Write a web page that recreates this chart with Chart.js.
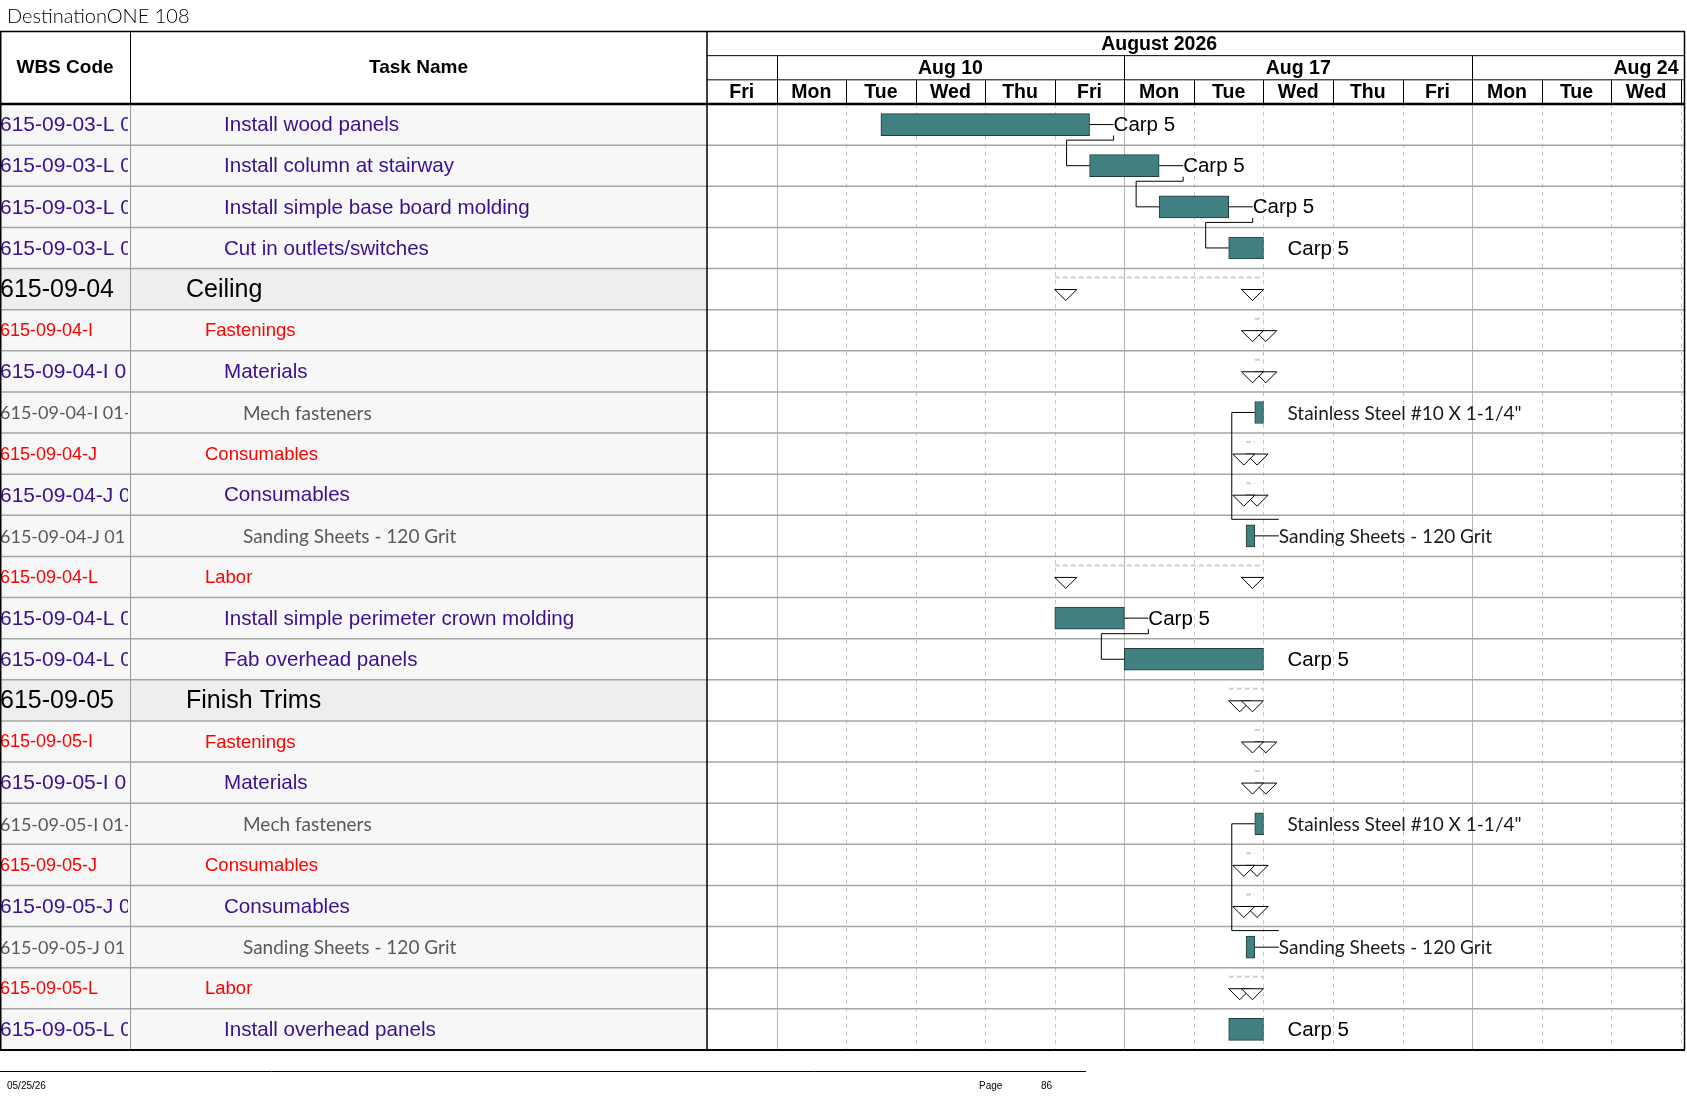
<!DOCTYPE html>
<html>
<head>
<meta charset="utf-8">
<title>DestinationONE 108</title>
<script src="https://cdn.jsdelivr.net/npm/chart.js@4.4.1/dist/chart.umd.min.js"></script>
<style>
    html, body { margin: 0; padding: 0; background: #fff; }
    canvas { display: block; }
</style>
</head>
<body>
<canvas id="ganttChart" width="1687" height="1097"></canvas>
<script>
// Rows of the schedule (top to bottom)
const wbsCodes = [
    "615-09-03-L 0", "615-09-03-L 0", "615-09-03-L 0", "615-09-03-L 0",
    "615-09-04", "615-09-04-I", "615-09-04-I 0", "615-09-04-I 01-",
    "615-09-04-J", "615-09-04-J 0", "615-09-04-J 01", "615-09-04-L",
    "615-09-04-L 0", "615-09-04-L 0",
    "615-09-05", "615-09-05-I", "615-09-05-I 0", "615-09-05-I 01-",
    "615-09-05-J", "615-09-05-J 0", "615-09-05-J 01", "615-09-05-L",
    "615-09-05-L 0"
];
const taskNames = [
    "Install wood panels", "Install column at stairway", "Install simple base board molding", "Cut in outlets/switches",
    "Ceiling", "Fastenings", "Materials", "Mech fasteners",
    "Consumables", "Consumables", "Sanding Sheets - 120 Grit", "Labor",
    "Install simple perimeter crown molding", "Fab overhead panels",
    "Finish Trims", "Fastenings", "Materials", "Mech fasteners",
    "Consumables", "Consumables", "Sanding Sheets - 120 Grit", "Labor",
    "Install overhead panels"
];
const outlineLevels = [4, 4, 4, 4, 2, 3, 4, 5, 3, 4, 5, 3, 4, 4, 2, 3, 4, 5, 3, 4, 5, 3, 4];

// Working-day units: 0 = start of Fri Aug 7, 1 = Mon Aug 10, ... (weekends hidden)
const startDays = [
    2.5, 5.5, 6.5, 7.5,
    5.0, 7.875, 7.875, 7.875,
    7.75, 7.75, 7.75, 5.0,
    5.0, 6.0,
    7.5, 7.875, 7.875, 7.875,
    7.75, 7.75, 7.75, 7.5,
    7.5
];
const finishDays = [
    5.5, 6.5, 7.5, 8.0,
    8.0, 8.0, 8.0, 8.0,
    7.875, 7.875, 7.875, 8.0,
    6.0, 8.0,
    8.0, 8.0, 8.0, 8.0,
    7.875, 7.875, 7.875, 8.0,
    8.0
];
const resourceNames = [
    "Carp 5", "Carp 5", "Carp 5", "Carp 5",
    "", "", "", "Stainless Steel #10 X 1-1/4\"",
    "", "", "Sanding Sheets - 120 Grit", "",
    "Carp 5", "Carp 5",
    "", "", "", "Stainless Steel #10 X 1-1/4\"",
    "", "", "Sanding Sheets - 120 Grit", "",
    "Carp 5"
];
// finish-to-start links [predecessor row, successor row]
const links = [[0, 1], [1, 2], [2, 3], [10, 7], [12, 13], [20, 17]];

// Timescale
const monthLabel = "August 2026";
const weekLabels = ["Aug 10", "Aug 17", "Aug 24"];
const weekStartDays = [1, 6, 11];
const dayLabels = ["Fri", "Mon", "Tue", "Wed", "Thu", "Fri", "Mon", "Tue", "Wed", "Thu", "Fri", "Mon", "Tue", "Wed"];

const projectTitle = "DestinationONE 108";
const footerDate = "05/25/26";
const pageNumber = "86";

function isSummary(i) {
    return i + 1 < outlineLevels.length && outlineLevels[i + 1] > outlineLevels[i];
}

// Look of each outline level
const ARIAL = "'Liberation Sans', Arial, sans-serif";
const CALI = "Lato, 'Open Sans', sans-serif";
const levelStyle = {
    2: { font: "25px " + ARIAL, wbsFont: "25px " + ARIAL, color: "#000000" },
    3: { font: "18.5px " + ARIAL, wbsFont: "18px " + ARIAL, color: "#ff0000" },
    4: { font: "20.6px " + ARIAL, wbsFont: "21px " + ARIAL, color: "#3c0f8f" },
    5: { font: "19px " + CALI, wbsFont: "18px " + CALI, color: "#595959" }
};

const WBS_WIDTH = 130;
const HEADER_TOP = 31.5;
const BAR_H = 22;
const LABEL_GAP = 24;
const TRI_W = 22;
const TRI_H = 11;

function line(ctx, x1, y1, x2, y2) {
    ctx.beginPath();
    ctx.moveTo(x1, y1);
    ctx.lineTo(x2, y2);
    ctx.stroke();
}

const ganttPlugin = {
    id: "ganttTable",
    beforeDatasetsDraw(chart) {
        const { ctx, scales: { x, y } } = chart;
        const rowH = (y.bottom - y.top) / taskNames.length;
        ctx.save();
        ctx.fillStyle = "#ffffff";
        ctx.fillRect(0, 0, chart.width, chart.height);

        // table row shading
        taskNames.forEach((_, i) => {
            const top = y.getPixelForValue(i) - rowH / 2;
            ctx.fillStyle = outlineLevels[i] === 2 ? "#eeeeee" : "#f7f7f7";
            ctx.fillRect(0, top, x.left, rowH);
        });

        // day grid: solid on week start, dashed otherwise
        ctx.lineWidth = 1;
        for (let d = 1; d <= 14; d++) {
            const px = Math.round(x.getPixelForValue(d)) + 0.5;
            if (weekStartDays.includes(d)) {
                ctx.setLineDash([]);
                ctx.strokeStyle = "#b5b5b5";
            } else {
                ctx.setLineDash([4, 4]);
                ctx.strokeStyle = "#c8c8c8";
            }
            line(ctx, px, y.top, px, y.bottom);
        }
        ctx.setLineDash([]);

        // row separators
        ctx.strokeStyle = "#a6a6a6";
        ctx.lineWidth = 1.5;
        for (let i = 1; i < taskNames.length; i++) {
            const yy = y.getPixelForValue(i) - rowH / 2;
            line(ctx, 0, yy, x.right, yy);
        }

        // summary span dashes
        ctx.strokeStyle = "#d0d0d0";
        ctx.lineWidth = 2;
        ctx.setLineDash([5, 3]);
        taskNames.forEach((_, i) => {
            if (!isSummary(i)) return;
            const yy = y.getPixelForValue(i) - rowH / 2 + 9;
            line(ctx, x.getPixelForValue(startDays[i]), yy, x.getPixelForValue(finishDays[i]), yy);
        });
        ctx.restore();
    },
    afterDatasetsDraw(chart) {
        const { ctx, scales: { x, y } } = chart;
        const rowH = (y.bottom - y.top) / taskNames.length;
        ctx.save();

        // summary end triangles (hollow, later one covers the earlier)
        ctx.strokeStyle = "#000";
        ctx.fillStyle = "#fff";
        ctx.lineWidth = 1;
        taskNames.forEach((_, i) => {
            if (!isSummary(i)) return;
            const t = y.getPixelForValue(i) - rowH / 2 + 21;
            const xs = x.getPixelForValue(startDays[i]);
            const xe = x.getPixelForValue(finishDays[i]);
            [[xs, xs + TRI_W], [xe - TRI_W, xe]].forEach(([a, b]) => {
                ctx.beginPath();
                ctx.moveTo(a, t);
                ctx.lineTo(b, t);
                ctx.lineTo((a + b) / 2, t + TRI_H);
                ctx.closePath();
                ctx.fill();
                ctx.stroke();
            });
        });

        // links
        links.forEach(([from, to]) => {
            const xE = x.getPixelForValue(finishDays[from]);
            const yF = y.getPixelForValue(from);
            const xS = x.getPixelForValue(startDays[to]);
            const yT = y.getPixelForValue(to);
            const xOut = xE + LABEL_GAP;
            const xIn = xS - 23;
            ctx.beginPath();
            ctx.moveTo(xE, yF);
            ctx.lineTo(xOut, yF);
            if (to > from) {
                const yMid = yF + rowH / 2 - 5;
                ctx.moveTo(xOut, yF + BAR_H / 2);
                ctx.lineTo(xOut, yMid);
                ctx.lineTo(xIn, yMid);
            } else {
                const yMid = yF - rowH / 2 + 4;
                ctx.moveTo(xOut, yMid);
                ctx.lineTo(xIn, yMid);
            }
            ctx.lineTo(xIn, yT);
            ctx.lineTo(xS, yT);
            ctx.stroke();
        });

        // resource labels right of the bars
        ctx.textBaseline = "middle";
        ctx.textAlign = "left";
        resourceNames.forEach((name, i) => {
            if (!name) return;
            ctx.font = outlineLevels[i] === 5 ? "19px " + CALI : "20.5px " + ARIAL;
            ctx.fillStyle = outlineLevels[i] === 5 ? "#1a1a1a" : "#000";
            ctx.fillText(name, x.getPixelForValue(finishDays[i]) + LABEL_GAP, y.getPixelForValue(i) + 1);
        });

        // table text
        taskNames.forEach((name, i) => {
            const st = levelStyle[outlineLevels[i]];
            const cy = y.getPixelForValue(i) + 1;
            ctx.fillStyle = st.color;
            ctx.save();
            ctx.beginPath();
            ctx.rect(0, cy - rowH / 2, WBS_WIDTH - 2, rowH);
            ctx.clip();
            ctx.font = st.wbsFont;
            ctx.fillText(wbsCodes[i], 0, cy);
            ctx.restore();
            ctx.font = st.font;
            ctx.fillText(name, 186 + (outlineLevels[i] - 2) * 19, cy);
        });

        // header
        const hRow = (y.top - HEADER_TOP) / 3;
        ctx.fillStyle = "#000";
        ctx.font = "bold 19px " + ARIAL;
        ctx.textAlign = "center";
        const hMid = (HEADER_TOP + y.top) / 2;
        ctx.fillText("WBS Code", WBS_WIDTH / 2, hMid);
        ctx.fillText("Task Name", (WBS_WIDTH + x.left) / 2, hMid);
        ctx.font = "bold 19.5px " + ARIAL;
        ctx.fillText(monthLabel, x.getPixelForValue(6.5), HEADER_TOP + hRow / 2 + 1);
        weekLabels.forEach((lbl, k) => {
            const w = ctx.measureText(lbl).width;
            const cx = Math.min(x.getPixelForValue(weekStartDays[k] + 2.5), x.right - 6 - w / 2);
            ctx.fillText(lbl, cx, HEADER_TOP + hRow * 1.5 + 1);
        });
        dayLabels.forEach((lbl, d) => {
            ctx.fillText(lbl, x.getPixelForValue(d + 0.5), HEADER_TOP + hRow * 2.5 + 1);
        });

        // header lines
        ctx.strokeStyle = "#000";
        ctx.lineWidth = 1;
        line(ctx, x.left, HEADER_TOP + hRow, x.right, HEADER_TOP + hRow);
        line(ctx, x.left, HEADER_TOP + hRow * 2, x.right, HEADER_TOP + hRow * 2);
        weekStartDays.forEach(d => {
            const px = Math.round(x.getPixelForValue(d)) + 0.5;
            line(ctx, px, HEADER_TOP + hRow, px, y.top);
        });
        for (let d = 1; d <= 14; d++) {
            const px = Math.round(x.getPixelForValue(d)) + 0.5;
            line(ctx, px, HEADER_TOP + hRow * 2, px, y.top);
        }
        line(ctx, WBS_WIDTH + 0.5, HEADER_TOP, WBS_WIDTH + 0.5, y.top);
        ctx.strokeStyle = "#9a9a9a";
        line(ctx, WBS_WIDTH + 0.5, y.top, WBS_WIDTH + 0.5, y.bottom);

        // outer borders
        ctx.strokeStyle = "#000";
        ctx.lineWidth = 1.5;
        line(ctx, 0, HEADER_TOP, x.right, HEADER_TOP);
        line(ctx, 0.75, HEADER_TOP, 0.75, y.bottom);
        line(ctx, x.left, HEADER_TOP, x.left, y.bottom);
        line(ctx, x.right - 0.5, HEADER_TOP, x.right - 0.5, y.bottom);
        ctx.lineWidth = 2.5;
        line(ctx, 0, y.top, x.right, y.top);
        ctx.lineWidth = 2;
        line(ctx, 0, y.bottom, x.right, y.bottom);

        // title and footer
        ctx.textAlign = "left";
        ctx.textBaseline = "alphabetic";
        ctx.font = "300 20px " + CALI;
        ctx.fillText(projectTitle, 7, 23);

        ctx.lineWidth = 1;
        line(ctx, 0, 1071.5, 1086, 1071.5);
        ctx.font = "10px " + ARIAL;
        ctx.textBaseline = "middle";
        ctx.fillText(footerDate, 7, 1086);
        ctx.fillText("Page", 979, 1086);
        ctx.fillText(pageNumber, 1041, 1086);
        ctx.restore();
    }
};

const ctx = document.getElementById("ganttChart").getContext("2d");
const ganttChart = new Chart(ctx, {
    type: "bar",
    data: {
        labels: taskNames,
        datasets: [{
            data: startDays.map((s, i) => isSummary(i) ? null : [s, finishDays[i]]),
            backgroundColor: "#408080",
            borderColor: "#1f3d3d",
            borderWidth: 1,
            borderSkipped: false,
            barThickness: BAR_H
        }]
    },
    options: {
        indexAxis: "y",
        responsive: false,
        animation: false,
        devicePixelRatio: 1,
        layout: { padding: { left: 707, right: 2, top: 104, bottom: 47 } },
        plugins: {
            legend: { display: false },
            tooltip: { enabled: false }
        },
        scales: {
            x: { type: "linear", min: 0, max: 14.06, display: false },
            y: { type: "category", offset: true, display: false }
        }
    },
    plugins: [ganttPlugin]
});
</script>
</body>
</html>
